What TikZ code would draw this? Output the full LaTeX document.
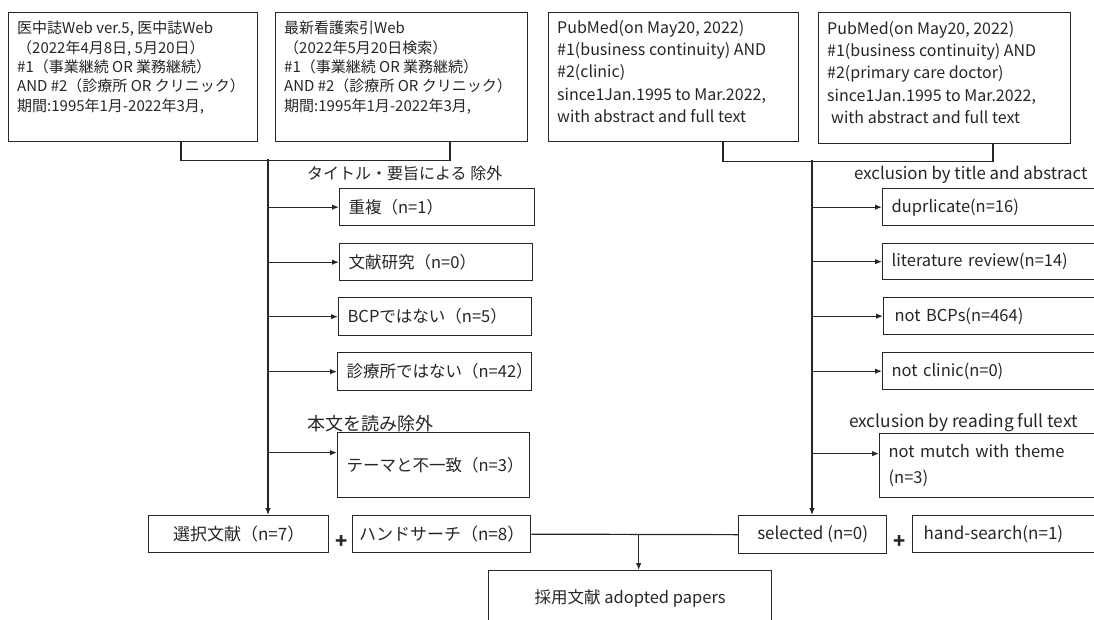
\documentclass[tikz,border=0pt]{standalone}
\usepackage{fontspec}
\setmainfont{Noto Sans CJK JP}
\usetikzlibrary{arrows.meta}
\definecolor{ln}{HTML}{262626}
\begin{document}
\begin{tikzpicture}[x=1pt,y=-1pt,
  every node/.style={text=ln},
  box/.style={draw=ln, line width=1.3pt, inner sep=0pt, anchor=north west},
  txt/.style={anchor=north west, align=left, inner sep=0pt},
  ebox/.style={draw=ln, line width=1.3pt, anchor=north west, inner xsep=9pt, inner ysep=0pt, align=left, font=\fontsize{16.5}{18}\selectfont},
  cbox/.style={draw=ln, line width=1.3pt, anchor=north west, inner sep=0pt, align=center, font=\fontsize{17}{18}\selectfont},
  lbl/.style={anchor=west, inner sep=0pt},
  conn/.style={draw=ln, line width=1.2pt},
  arr/.style={draw=ln, line width=1.2pt, -{Latex[length=7pt,width=5.5pt]}},
  plus/.style={inner sep=0pt, font=\fontsize{20}{20}\selectfont\bfseries}]
\useasboundingbox (0,0) rectangle (1094,619);
\clip (0,0) rectangle (1094,619);
\fill[white] (0,0) rectangle (1094,619);

% top boxes
\node[box, minimum width=249, minimum height=129] (b1) at (8,12) {};
\node[txt, font=\fontsize{15}{19.3}\selectfont] (t1) at (17,21) {医中誌Web ver.5, 医中誌Web\\（2022年4月8日, 5月20日）\\\#1（事業継続 OR 業務継続）\\AND \#2（診療所 OR クリニック）\\期間:1995年1月-2022年3月,};
\node[box, minimum width=252, minimum height=129] (b2) at (275,12) {};
\node[txt, font=\fontsize{15}{19.3}\selectfont] (t2) at (284,21) {最新看護索引Web\\（2022年5月20日検索）\\\#1（事業継続 OR 業務継続）\\AND \#2（診療所 OR クリニック）\\期間:1995年1月-2022年3月,};
\node[box, minimum width=250, minimum height=129] (b3) at (548,12) {};
\node[txt, font=\fontsize{16}{22.3}\selectfont] (t3) at (557,20) {PubMed(on May20, 2022)\\\#1(business continuity) AND\\\#2(clinic)\\since1Jan.1995 to Mar.2022,\\with abstract and full text};
\node[box, minimum width=252, minimum height=131] (b4) at (818,12) {};
\node[txt, font=\fontsize{16}{22.3}\selectfont] (t4) at (827,21) {PubMed(on May20, 2022)\\\#1(business continuity) AND\\\#2(primary care doctor)\\since1Jan.1995 to Mar.2022,\\\hspace{4pt}with abstract and full text};

% brackets
\draw[conn] ([xshift=173pt]b1.south west) -- ++(0,18) -| ([xshift=175pt]b2.south west);
\draw[conn] ([xshift=175pt]b3.south west) -- ++(0,19) -| ([xshift=175pt]b4.south west);
\coordinate (j1) at (268,159);
\coordinate (j2) at (812,160);

% left exclusion
\node[lbl, font=\fontsize{16}{18}\selectfont] (l1) at (307,173) {タイトル・要旨による 除外};
\node[ebox, text width=177pt, minimum height=37] (e1) at (339,188) {重複（n=1）};
\node[ebox, text width=175pt, minimum height=37] (e2) at (339,243) {文献研究（n=0）};
\node[ebox, text width=175pt, minimum height=38] (e3) at (338,297) {BCPではない（n=5）};
\node[ebox, text width=176pt, minimum height=38] (e4) at (337,352) {診療所ではない（n=42）};
\node[lbl, font=\fontsize{18}{20}\selectfont] (l2) at (307,424) {本文を読み除外};
\node[ebox, text width=174pt, minimum height=65] (e5) at (337,432) {テーマと不一致（n=3）};

\draw[arr] (e1.west -| j1) -- (e1.west);
\draw[arr] (e2.west -| j1) -- (e2.west);
\draw[arr] (e3.west -| j1) -- (e3.west);
\draw[arr] (e4.west -| j1) -- (e4.west);
\draw[arr] ([yshift=12.5pt]e5.west -| j1) -- ([yshift=12.5pt]e5.west);

% right exclusion
\node[lbl, font=\fontsize{16.8}{20}\selectfont] (l3) at (854,175) {exclusion by title and abstract};
\node[ebox, text width=210pt, minimum height=37] (r1) at (882,188) {duprlicate(n=16)};
\node[ebox, text width=210pt, minimum height=36] (r2) at (882,243) {literature review(n=14)};
\node[ebox, text width=210pt, minimum height=37] (r3) at (883,297) {\hspace{2pt}not BCPs(n=464)};
\node[ebox, text width=210pt, minimum height=37] (r4) at (882,352) {not clinic(n=0)};
\node[lbl, font=\fontsize{17.3}{20}\selectfont] (l4) at (849,423) {exclusion by reading full text};
\node[ebox, text width=210pt, minimum height=64, font=\fontsize{16.5}{26}\selectfont] (r5) at (879,433) {not mutch with theme\\(n=3)};

\draw[arr] (r1.west -| j2) -- (r1.west);
\draw[arr] (r2.west -| j2) -- (r2.west);
\draw[arr] (r3.west -| j2) -- (r3.west);
\draw[arr] (r4.west -| j2) -- (r4.west);
\draw[arr] ([yshift=12pt]r5.west -| j2) -- ([yshift=12pt]r5.west);

% bottom row
\node[cbox, minimum width=180, minimum height=37] (s1) at (148,515) {選択文献（n=7）};
\node[plus] (p1) at (342,542) {+};
\node[cbox, minimum width=178, minimum height=37] (h1) at (352,515) {ハンドサーチ（n=8）};
\node[cbox, minimum width=148, minimum height=38] (s2) at (738,515) {selected (n=0)};
\node[plus] (p2) at (900,542) {+};
\node[ebox, text width=190pt, inner xsep=11pt, minimum height=37, font=\fontsize{17}{18}\selectfont] (h2) at (912,515) {hand-search(n=1)};
\node[cbox, minimum width=283, minimum height=56, font=\fontsize{16.5}{18}\selectfont] (a) at (488,570) {採用文献 adopted papers};

\draw[arr] (j1) -- (j1 |- s1.north);
\draw[arr] (j2) -- (j2 |- s2.north);
\draw[conn] (h1.east) -- (s2.west);
\draw[arr] ([xshift=8.5pt]a.north |- h1.east) -- ([xshift=8.5pt]a.north);
\end{tikzpicture}
\end{document}
